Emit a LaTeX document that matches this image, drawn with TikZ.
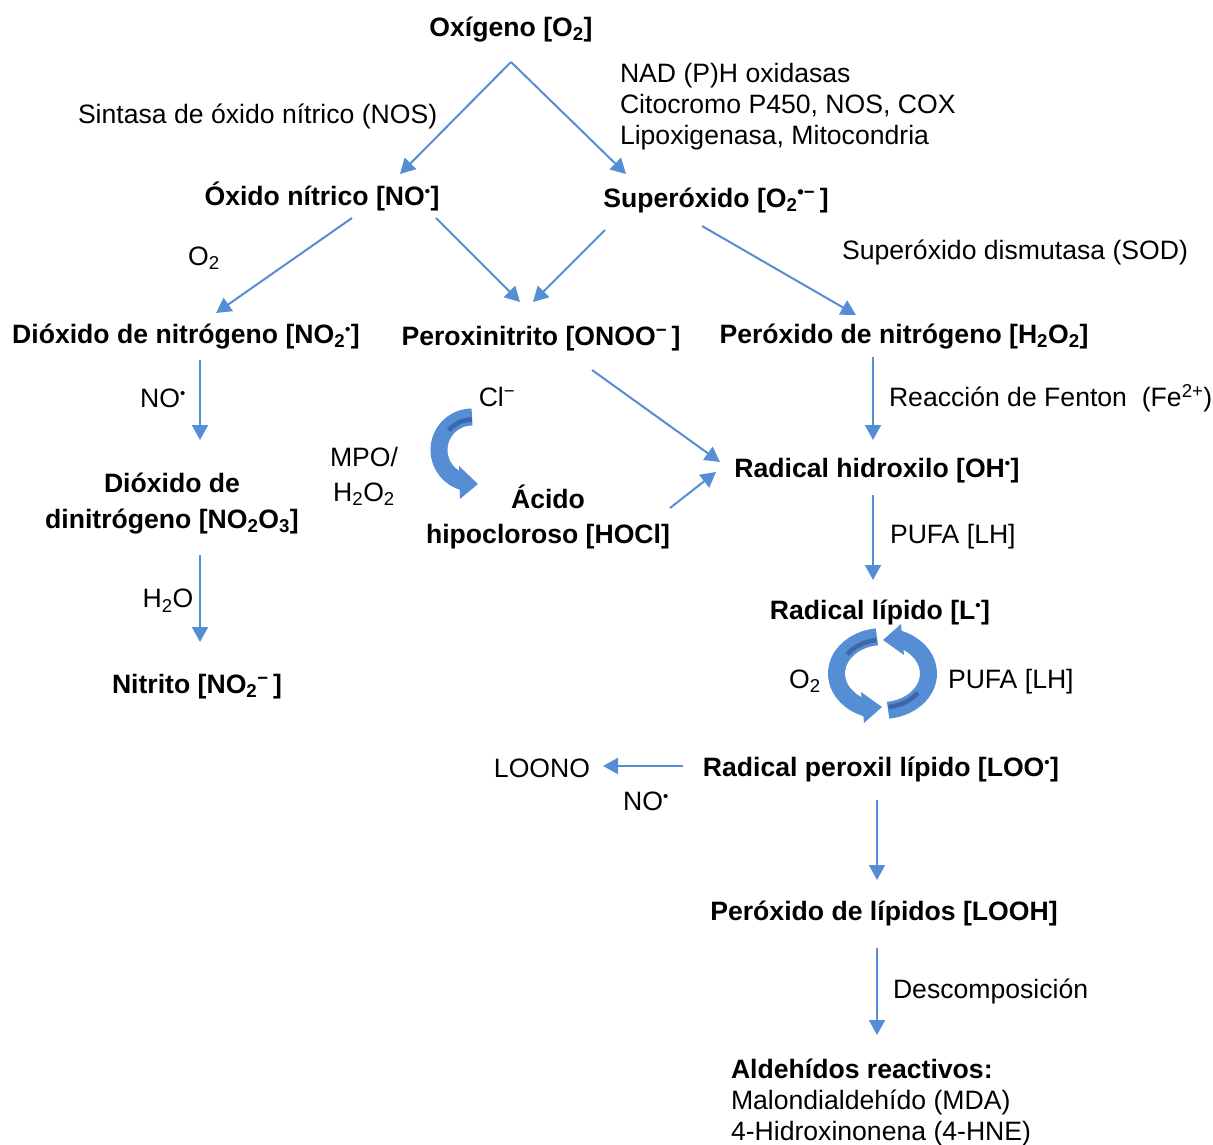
\documentclass[tikz,border=0pt]{standalone}
\usepackage{fontspec}
\setmainfont{Liberation Sans}
\usetikzlibrary{arrows.meta,calc}
\definecolor{ablue}{RGB}{85,142,213}
\definecolor{dblue}{RGB}{58,104,168}
\newcommand\rdt{\textsuperscript{\fontsize{15}{15}\selectfont •}}
\newcommand\mns{\textsuperscript{−}}
\newcommand\sbs[1]{\textsubscript{#1}}
\begin{document}
\begin{tikzpicture}[x=1pt,y=-1pt,
  every node/.style={inner sep=0pt, outer sep=0pt, yshift=-2.5pt, font=\fontsize{26.6}{31}\selectfont},
  nosh/.style={yshift=2.5pt},
  bx/.style={font=\fontsize{26.6}{35.5}\selectfont\bfseries, align=center},
  arr/.style={draw=ablue, line width=2pt, -{Triangle[length=15pt,width=16pt]}},
  band/.style={draw=ablue, line width=17pt},
  head/.style={fill=ablue},
  stripe/.style={draw=dblue, line width=4.5pt}]
\useasboundingbox (0,0) rectangle (1213,1144);

% nodes
\node[bx] (ox) at (511,27) {Oxígeno [O\sbs{2}]};
\node[anchor=west] (nos) at (78,114) {Sintasa de óxido nítrico (NOS)};
\node[anchor=west, align=left] (nad) at (620,104) {NAD (P)H oxidasas\\Citocromo P450, NOS, COX\\Lipoxigenasa, Mitocondria};
\node[bx, nosh] (no) at (322,196) {Óxido nítrico [NO\rdt]};
\node[bx] (sup) at (716,198) {Superóxido [O\sbs{2}\textsuperscript{•−}\,]};
\node[nosh] (o2a) at (204,258) {O\sbs{2}};
\node[anchor=west] (sod) at (842,250) {Superóxido dismutasa (SOD)};
\node[bx] (no2) at (186,334) {Dióxido de nitrógeno [NO\sbs{2}\rdt]};
\node[bx] (onoo) at (541,336) {Peroxinitrito [ONOO\mns\,]};
\node[bx] (h2o2) at (904,334) {Peróxido de nitrógeno [H\sbs{2}O\sbs{2}]};
\node[nosh] (nol) at (163,398) {NO\rdt};
\node[bx] (n2o3) at (172,501) {Dióxido de\\dinitrógeno [NO\sbs{2}O\sbs{3}]};
\node (h2ol) at (168,598) {H\sbs{2}O};
\node[bx] (nit) at (197,684) {Nitrito [NO\sbs{2}\mns\,]};
\node[nosh] (cl) at (497,397) {Cl\mns};
\node[align=center, font=\fontsize{26.6}{35}\selectfont] (mpo) at (364,474) {MPO/\\H\sbs{2}O\sbs{2}};
\node[bx, nosh] (hocl) at (548,517) {Ácido\\hipocloroso [HOCl]};
\node[anchor=west, nosh] (fen) at (889,398) {Reacción de Fenton~~(Fe\textsuperscript{2+})};
\node[bx] (oh) at (877,468) {Radical hidroxilo [OH\rdt]};
\node[anchor=west] (pufa1) at (890,534) {PUFA [LH]};
\node[bx] (lrad) at (880,610) {Radical lípido [L\rdt]};
\node[nosh] (o2b) at (805,681) {O\sbs{2}};
\node[anchor=west] (pufa2) at (948,679) {PUFA [LH]};
\node[bx] (loo) at (881,767) {Radical peroxil lípido [LOO\rdt]};
\node[nosh] (loono) at (542,768) {LOONO};
\node[nosh] (nol2) at (646,801) {NO\rdt};
\node[bx] (looh) at (884,911) {Peróxido de lípidos [LOOH]};
\node[anchor=west] (desc) at (893,989) {Descomposición};
\node[anchor=west, align=left] (ald) at (731,1100) {\textbf{Aldehídos reactivos:}\\Malondialdehído (MDA)\\4-Hidroxinonena (4-HNE)};

% connectors
\draw[arr] ($(ox)+(0,32.5)$) -- ($(no)+(78,-22)$);
\draw[arr] ($(ox)+(0,32.5)$) -- ($(sup)+(-90,-26.5)$);
\draw[arr] ($(no)+(30,22)$) -- ($(no2)+(30,-23.5)$);
\draw[arr] ($(no)+(114,22)$) -- ($(onoo)+(-21,-36.5)$);
\draw[arr] ($(sup)+(-111,29.5)$) -- ($(onoo)+(-8,-36.5)$);
\draw[arr] ($(sup)+(-14,25.5)$) -- ($(h2o2)+(-48,-21.5)$);
\draw[arr] ($(no2)+(14,23.5)$) -- ($(n2o3)+(28,-63.5)$);
\draw[arr] ($(n2o3)+(28,51.5)$) -- ($(nit)+(3,-44.5)$);
\draw[arr] ($(onoo)+(51,31.5)$) -- ($(oh)+(-157,-8.5)$);
\draw[arr] ($(h2o2)+(-31,20.5)$) -- ($(oh)+(-4,-30.5)$);
\draw[arr] ($(hocl)+(122,-9)$) -- ($(oh)+(-161,1.5)$);
\draw[arr] ($(oh)+(-4,24.5)$) -- ($(lrad)+(-7,-32.5)$);
\draw[arr] ($(loo)+(-198,-3.5)$) -- ($(loono)+(61,-2)$);
\draw[arr] ($(loo)+(-4,30.5)$) -- ($(looh)+(-7,-33.5)$);
\draw[arr] ($(looh)+(-7,34.5)$) -- ($(ald.west)+(146,-67.5)$);

% curved thick arrow (MPO)
\draw[band] (472,417) arc[start angle=90, end angle=258, radius=33pt];
\fill[head] (459,466) -- (478,484) -- (460,499) -- cycle;
\draw[stripe] (472,419.5) arc[start angle=90, end angle=140, radius=30.5pt];

% cycle arrows
\draw[band] (876.9,636.8) arc[start angle=97, end angle=250, x radius=46pt, y radius=37pt];
\fill[head] (861,692) -- (882,707) -- (864,723) -- cycle;
\draw[stripe] (876.5,640) arc[start angle=98, end angle=145, x radius=43pt, y radius=34pt];
\draw[band] (888.1,710.2) arc[start angle=277, end angle=430, x radius=46pt, y radius=37pt];
\fill[head] (901,624) -- (883,640) -- (904,655) -- cycle;
\draw[stripe] (888.5,707) arc[start angle=278, end angle=325, x radius=43pt, y radius=34pt];
\end{tikzpicture}
\end{document}
